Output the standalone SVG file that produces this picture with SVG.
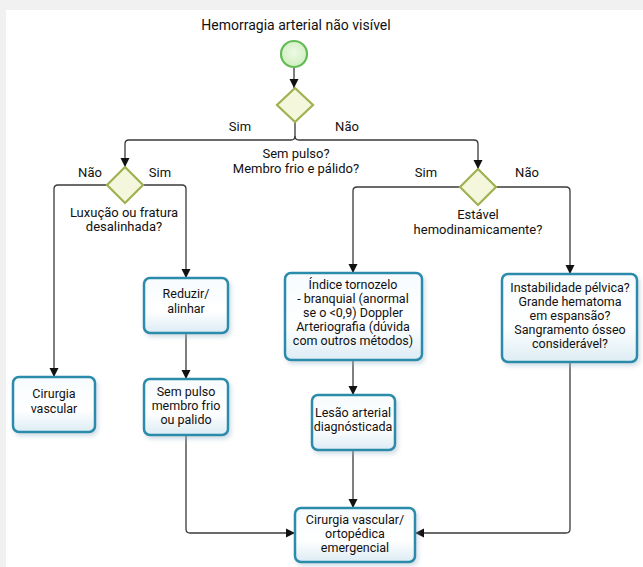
<svg xmlns="http://www.w3.org/2000/svg" width="643" height="567" viewBox="0 0 643 567">
<defs>
<style>
text{font-family:Roboto,"Liberation Sans",sans-serif;fill:#111;}
.t{font-size:12.5px;text-anchor:middle;}
.lbl{font-size:13px;text-anchor:middle;}
.title{font-size:14px;text-anchor:middle;}
.box{fill:url(#boxg);stroke:#2a8bab;stroke-width:2.5;filter:url(#sh);}
.dia{fill:#f4f7dc;stroke:#9fb150;stroke-width:2.2;}
.arr{fill:none;stroke:#3a3a3a;stroke-width:1.3;marker-end:url(#ah);}
</style>
<linearGradient id="boxg" x1="0" y1="0" x2="0" y2="1">
<stop offset="0" stop-color="#f7fbfd"/>
<stop offset="0.6" stop-color="#ffffff"/>
<stop offset="1" stop-color="#dcecf4"/>
</linearGradient>
<radialGradient id="circg" cx="0.5" cy="0.45" r="0.6">
<stop offset="0" stop-color="#eef9e6"/>
<stop offset="1" stop-color="#cdeebc"/>
</radialGradient>
<filter id="sh" x="-10%" y="-10%" width="130%" height="140%">
<feDropShadow dx="2" dy="3" stdDeviation="2" flood-color="#9ab7c8" flood-opacity="0.45"/>
</filter>
<marker id="ah" markerWidth="10" markerHeight="10" refX="9" refY="5" orient="auto" markerUnits="userSpaceOnUse">
<path d="M0,0.5 L9,5 L0,9.5 Z" fill="#111"/>
</marker>
</defs>
<rect x="0" y="0" width="643" height="567" fill="#f1f1f1"/>
<rect x="6" y="10" width="637" height="557" fill="#ffffff"/>

<g id="connectors">
<path class="arr" d="M294,67 V88"/>
<path class="arr" d="M295,122 V136 Q295,140 291,140 H129 Q125,140 125,144 V167"/>
<path class="arr" d="M295,136 Q295,140 299,140 H474 Q478,140 478,144 V169"/>
<path class="arr" d="M107,185 H58 Q54,185 54,189 V377"/>
<path class="arr" d="M143,185 H182 Q186,185 186,189 V278"/>
<path class="arr" d="M186,333 V379"/>
<path class="arr" d="M186,435 V529 Q186,533 190,533 H295"/>
<path class="arr" d="M460,187 H357 Q353,187 353,191 V273"/>
<path class="arr" d="M496,187 H566 Q570,187 570,191 V274"/>
<path class="arr" d="M353,360 V395"/>
<path class="arr" d="M353,450 V508"/>
<path class="arr" d="M570,362 V529 Q570,533 566,533 H415"/>
</g>

<g id="title"><text class="title" x="296" y="30">Hemorragia arterial não visível</text></g>

<g id="start"><circle cx="294" cy="54" r="13" fill="url(#circg)" stroke="#63bb55" stroke-width="2.2"/></g>

<g id="d1">
<polygon class="dia" points="295,88 313,105 295,122 277,105"/>
<text class="lbl" x="296" y="158">Sem pulso?</text>
<text class="lbl" x="296" y="173">Membro frio e pálido?</text>
</g>
<g id="l-sim1"><text class="lbl" x="240" y="131">Sim</text></g>
<g id="l-nao1"><text class="lbl" x="347" y="131">Não</text></g>

<g id="d2">
<polygon class="dia" points="125,167 143,185 125,203 107,185"/>
<text class="lbl" x="124" y="217">Luxução ou fratura</text>
<text class="lbl" x="124" y="231">desalinhada?</text>
</g>
<g id="l-nao2"><text class="lbl" x="90" y="177">Não</text></g>
<g id="l-sim2"><text class="lbl" x="160" y="177">Sim</text></g>

<g id="d3">
<polygon class="dia" points="478,169 496,187 478,205 460,187"/>
<text class="lbl" x="478" y="219">Estável</text>
<text class="lbl" x="478" y="234">hemodinamicamente?</text>
</g>
<g id="l-sim3"><text class="lbl" x="426" y="177">Sim</text></g>
<g id="l-nao3"><text class="lbl" x="527" y="177">Não</text></g>

<g id="n-cirvasc">
<rect class="box" x="13" y="377" width="82" height="55" rx="6"/>
<text class="t" x="54" y="398">Cirurgia</text>
<text class="t" x="54" y="413">vascular</text>
</g>

<g id="n-reduzir">
<rect class="box" x="144" y="278" width="84" height="55" rx="6"/>
<text class="t" x="186" y="298">Reduzir/</text>
<text class="t" x="186" y="313">alinhar</text>
</g>

<g id="n-sempulso">
<rect class="box" x="144" y="379" width="84" height="56" rx="6"/>
<text class="t" x="186" y="396">Sem pulso</text>
<text class="t" x="186" y="410">membro frio</text>
<text class="t" x="186" y="424">ou palido</text>
</g>

<g id="n-indice">
<rect class="box" x="285" y="273" width="137" height="87" rx="6"/>
<text class="t" x="353" y="289">Índice tornozelo</text>
<text class="t" x="353" y="303">- branquial (anormal</text>
<text class="t" x="353" y="317">se o &lt;0,9) Doppler</text>
<text class="t" x="353" y="331">Arteriografia (dúvida</text>
<text class="t" x="353" y="345">com outros métodos)</text>
</g>

<g id="n-lesao">
<rect class="box" x="312" y="395" width="83" height="55" rx="6"/>
<text class="t" x="353" y="417">Lesão arterial</text>
<text class="t" x="353" y="431">diagnósticada</text>
</g>

<g id="n-instab">
<rect class="box" x="502" y="274" width="135" height="88" rx="6"/>
<text class="t" x="570" y="292">Instabilidade pélvica?</text>
<text class="t" x="570" y="306">Grande hematoma</text>
<text class="t" x="570" y="320">em espansão?</text>
<text class="t" x="570" y="334">Sangramento ósseo</text>
<text class="t" x="570" y="348">considerável?</text>
</g>

<g id="n-final">
<rect class="box" x="295" y="508" width="120" height="54" rx="6"/>
<text class="t" x="355" y="524">Cirurgia vascular/</text>
<text class="t" x="355" y="538">ortopédica</text>
<text class="t" x="355" y="552">emergencial</text>
</g>
</svg>
